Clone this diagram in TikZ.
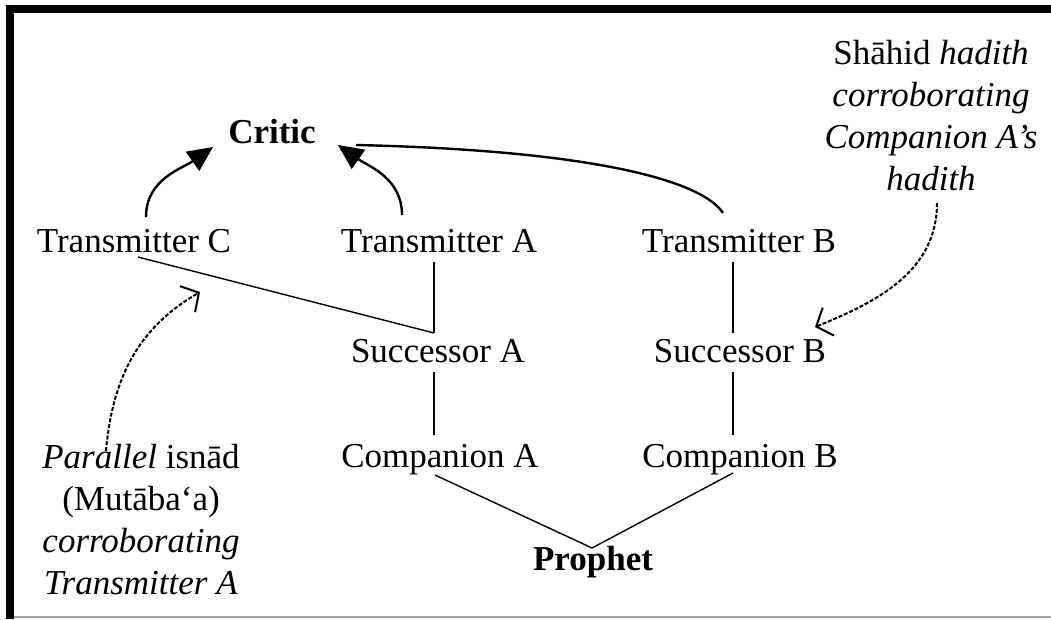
\documentclass[tikz,border=0pt]{standalone}
\usepackage{fontspec}
\setmainfont{Liberation Serif}
\usetikzlibrary{arrows.meta,calc}
\begin{document}
\begin{tikzpicture}[x=1pt,y=1pt,
  lbl/.style={anchor=base,inner sep=0pt,font=\fontsize{35pt}{42pt}\selectfont},
  note/.style={anchor=north,inner sep=0pt,align=center,font=\fontsize{35pt}{42pt}\selectfont},
  link/.style={line width=1.4pt},
  toarrow/.style={line width=2.4pt,-{Triangle[length=25pt,width=23pt]}},
  dotarrow/.style={line width=2pt,dash pattern=on 4pt off 1.8pt,-{Straight Barb[length=13pt,width=30pt]}}]
\useasboundingbox (0,0) rectangle (1051,-619);
% frame
\fill[black] (6,-5) rectangle (1051,-13);
\fill[black] (6,-5) rectangle (14,-619);
\draw[gray!70,line width=2pt] (14,-617) -- (1051,-617);
% nodes
\node[lbl] (critic) at (272,-143) {\textbf{Critic}};
\node[lbl] (tC) at (134,-252) {Transmitter C};
\node[lbl] (tA) at (439,-252) {Transmitter A};
\node[lbl] (tB) at (739,-252) {Transmitter B};
\node[lbl] (sA) at (438,-362) {Successor A};
\node[lbl] (sB) at (740,-362) {Successor B};
\node[lbl] (cA) at (440,-467) {Companion A};
\node[lbl] (cB) at (740,-467) {Companion B};
\node[lbl] (prophet) at (593,-570) {\textbf{Prophet}};
\node[note] (shahid) at (931,-40) {Shāhid \textit{hadith}\\ \textit{corroborating}\\ \textit{Companion A’s}\\ \textit{hadith}};
\node[note] (parallel) at (141,-444) {\textit{Parallel} isnād\\ (Mutāba‘a)\\ \textit{corroborating}\\ \textit{Transmitter A}};
\coordinate (jA) at (434,-333);
% chain links
\draw[link] ([shift={(4,-5)}]tC.base) -- (jA);
\draw[link] ([shift={(-5,-10)}]tA.base) -- (jA);
\draw[link] ([shift={(-4,-10)}]sA.base) -- ([shift={(-6,32)}]cA.base);
\draw[link] ([shift={(-6,-10)}]tB.base) -- ([shift={(-7,29)}]sB.base);
\draw[link] ([shift={(-7,-10)}]sB.base) -- ([shift={(-7,32)}]cB.base);
\draw[link] ([shift={(-5,-8)}]cA.base) -- ([shift={(-1,22)}]prophet.base);
\draw[link] ([shift={(-7,-6)}]cB.base) -- ([shift={(-1,22)}]prophet.base);
% arrows to critic
\draw[toarrow] ([shift={(12,35)}]tC.base) to[out=90,in=215] ([shift={(-59,-4)}]critic.base);
\draw[toarrow] ([shift={(-37,37)}]tA.base) to[out=90,in=-35] ([shift={(66,-2)}]critic.base);
\draw[line width=2.4pt] ([shift={(-16,39)}]tB.base) .. controls (700,-178) and (580,-150) .. ([shift={(84,-2)}]critic.base);
% dotted corroboration arrows
\draw[dotarrow] ([shift={(-35,-7)}]parallel.north) to[out=85,in=210] (200,-292);
\draw[dotarrow] ([shift={(6,-163)}]shahid.north) to[out=-90,in=22] (815,-327);
\end{tikzpicture}
\end{document}
